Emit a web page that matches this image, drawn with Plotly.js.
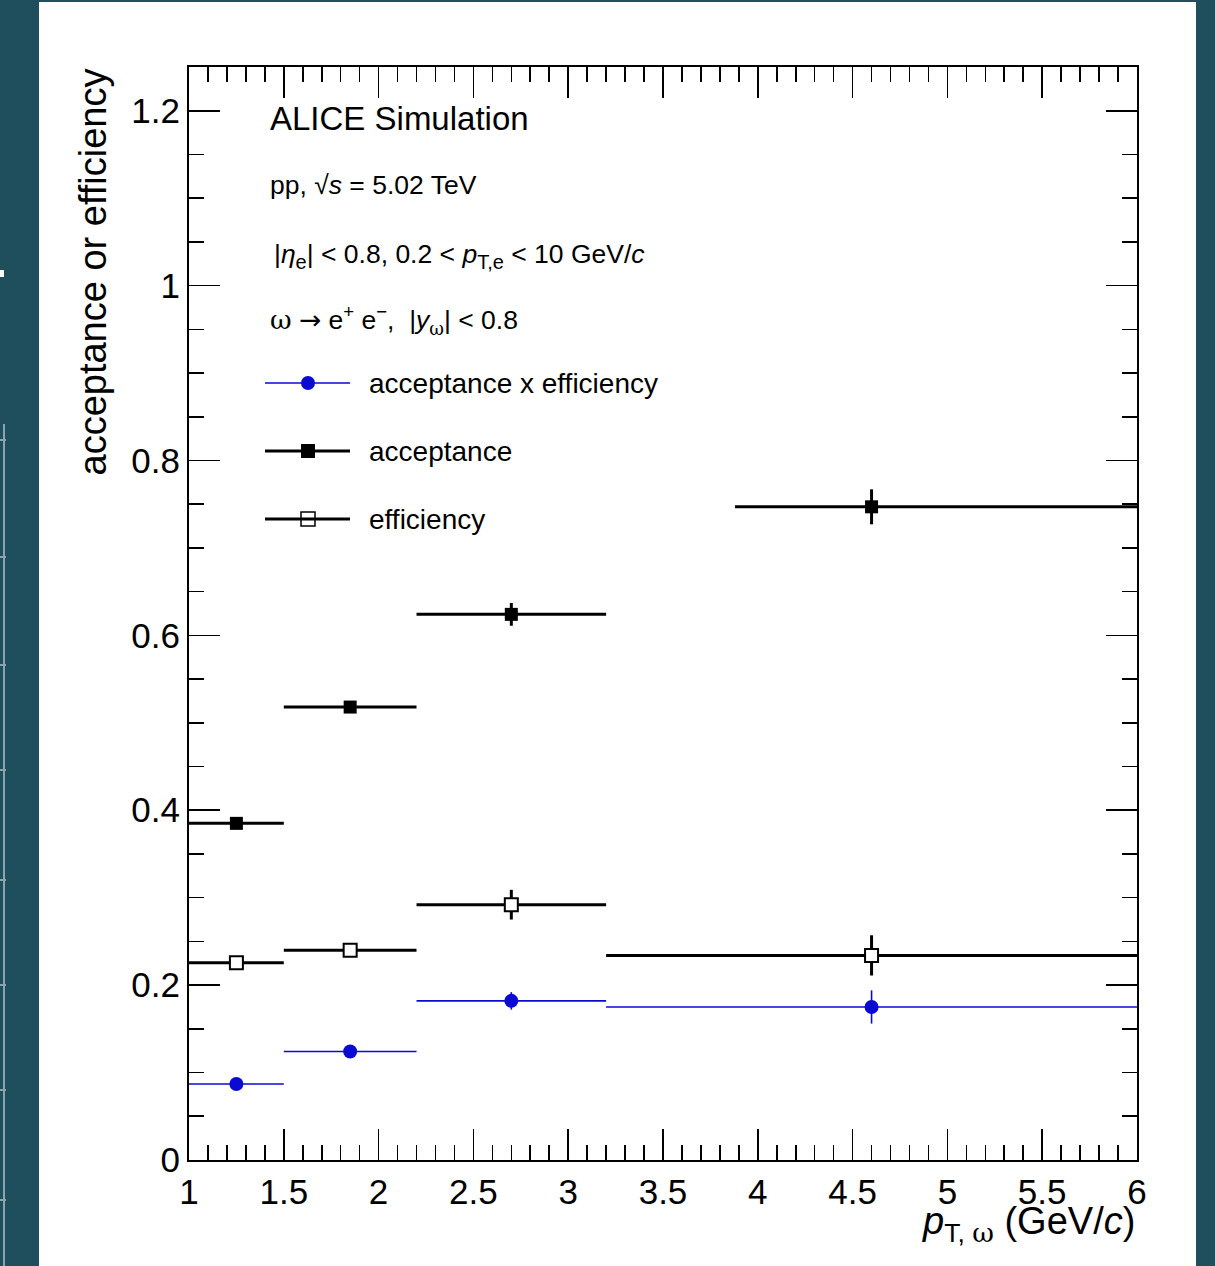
<!DOCTYPE html>
<html>
<head>
<meta charset="utf-8">
<script src="https://cdn.plot.ly/plotly-3.0.1.min.js"></script>
<style>html,body{margin:0;padding:0;background:#1f4f5d;}#chart{width:1215px;height:1266px;}</style>
</head>
<body>
<div id="chart"></div>
<script>
// pT bin centres (GeV/c)
const ptCenters = [1.25, 1.85, 2.7, 4.6];
// bin edges for each series
const accBinLow   = [1.0, 1.5, 2.2, 3.88];
const accBinHigh  = [1.5, 2.2, 3.2, 6.0];
const effBinLow   = [1.0, 1.5, 2.2, 3.2];
const effBinHigh  = [1.5, 2.2, 3.2, 6.0];
// values
const acceptance      = [0.385, 0.518, 0.624, 0.747];
const acceptanceErr   = [0.003, 0.005, 0.013, 0.020];
const efficiency      = [0.2255, 0.240, 0.292, 0.234];
const efficiencyErr   = [0.003, 0.004, 0.017, 0.023];
const accTimesEff     = [0.087, 0.124, 0.182, 0.175];
const accTimesEffErr  = [0.002, 0.003, 0.010, 0.019];
const xTickVals = [1, 1.5, 2, 2.5, 3, 3.5, 4, 4.5, 5, 5.5, 6];
const yTickVals = [0, 0.2, 0.4, 0.6, 0.8, 1, 1.2];

const plus = (lo, hi) => hi.map((h, i) => h - ptCenters[i]);
const minus = (lo, hi) => lo.map((l, i) => ptCenters[i] - l);

const BLUE = '#0a0ad2';
const FONT = 'Liberation Sans, Arial, Helvetica, sans-serif';
const OMEGA = '<span style="font-family:DejaVu Serif">ω</span>';

const traces = [
  {
    name: 'efficiency', type: 'scatter', mode: 'markers',
    x: ptCenters, y: efficiency,
    error_x: {type: 'data', symmetric: false, array: plus(effBinLow, effBinHigh), arrayminus: minus(effBinLow, effBinHigh), color: '#000', thickness: 3, width: 0},
    error_y: {type: 'data', array: efficiencyErr, color: '#000', thickness: 3, width: 0},
    marker: {symbol: 'square', size: 13, color: '#fff', line: {color: '#000', width: 2}},
    showlegend: false, cliponaxis: false
  },
  {
    name: 'acceptance', type: 'scatter', mode: 'markers',
    x: ptCenters, y: acceptance,
    error_x: {type: 'data', symmetric: false, array: plus(accBinLow, accBinHigh), arrayminus: minus(accBinLow, accBinHigh), color: '#000', thickness: 3, width: 0},
    error_y: {type: 'data', array: acceptanceErr, color: '#000', thickness: 3, width: 0},
    marker: {symbol: 'square', size: 13, color: '#000'},
    showlegend: false, cliponaxis: false
  },
  {
    name: 'acceptance x efficiency', type: 'scatter', mode: 'markers',
    x: ptCenters, y: accTimesEff,
    error_x: {type: 'data', symmetric: false, array: plus(effBinLow, effBinHigh), arrayminus: minus(effBinLow, effBinHigh), color: BLUE, thickness: 1.6, width: 0},
    error_y: {type: 'data', array: accTimesEffErr, color: BLUE, thickness: 1.6, width: 0},
    marker: {symbol: 'circle', size: 14, color: BLUE},
    showlegend: false, cliponaxis: false
  }
];

// pixel -> paper helpers for layout decorations
const L = 189, R = 1137, T = 67, B = 1160;
const px = v => (v - L) / (R - L);
const py = v => (B - v) / (B - T);

const shapes = [
  // white panel on the teal page
  {type: 'rect', xref: 'paper', yref: 'paper', x0: px(39), x1: px(1196), y0: py(1270), y1: py(2), fillcolor: '#ffffff', line: {width: 0}, layer: 'below'},
  // faint screen artefacts on the left edge
  {type: 'line', xref: 'paper', yref: 'paper', x0: px(4), x1: px(4), y0: py(1266), y1: py(424), line: {color: '#8aa3ad', width: 2}, layer: 'below'},
  {type: 'rect', xref: 'paper', yref: 'paper', x0: px(0), x1: px(4), y0: py(277), y1: py(270), fillcolor: '#ffffff', line: {width: 0}, layer: 'below'}
];
[440, 557, 665, 770, 880, 985, 1090, 1200].forEach(y => {
  shapes.push({type: 'line', xref: 'paper', yref: 'paper', x0: px(0), x1: px(6), y0: py(y), y1: py(y), line: {color: '#8aa3ad', width: 2}, layer: 'below'});
});

// hand-drawn legend (ROOT style)
const legRows = [
  {y: 383, label: 'acceptance x efficiency', color: BLUE, lw: 1.6, mark: 'circle'},
  {y: 451, label: 'acceptance', color: '#000', lw: 3, mark: 'fsquare'},
  {y: 519, label: 'efficiency', color: '#000', lw: 3, mark: 'osquare'}
];
const annotations = [];
legRows.forEach(r => {
  shapes.push({type: 'line', xref: 'paper', yref: 'paper', x0: px(265), x1: px(350), y0: py(r.y), y1: py(r.y), line: {color: r.color, width: r.lw}});
  if (r.mark === 'circle') {
    shapes.push({type: 'circle', xref: 'paper', yref: 'paper', x0: px(301), x1: px(315), y0: py(r.y + 7), y1: py(r.y - 7), fillcolor: r.color, line: {color: r.color, width: 0}});
  } else if (r.mark === 'fsquare') {
    shapes.push({type: 'rect', xref: 'paper', yref: 'paper', x0: px(301), x1: px(315), y0: py(r.y + 7), y1: py(r.y - 7), fillcolor: '#000', line: {color: '#000', width: 0}});
  } else {
    shapes.push({type: 'rect', xref: 'paper', yref: 'paper', x0: px(301), x1: px(315), y0: py(r.y + 7), y1: py(r.y - 7), fillcolor: 'rgba(0,0,0,0)', line: {color: '#000', width: 1.5}});
  }
  annotations.push({xref: 'paper', yref: 'paper', x: px(367), y: py(r.y), xanchor: 'left', yanchor: 'middle', showarrow: false, text: r.label, font: {family: FONT, size: 28, color: '#000'}});
});

annotations.push(
  {xref: 'paper', yref: 'paper', x: px(268), y: py(118), xanchor: 'left', yanchor: 'middle', showarrow: false, text: 'ALICE Simulation', font: {family: FONT, size: 33, color: '#000'}},
  {xref: 'paper', yref: 'paper', x: px(268), y: py(185), xanchor: 'left', yanchor: 'middle', showarrow: false, text: 'pp, √<i>s</i> = 5.02 TeV', font: {family: FONT, size: 26.5, color: '#000'}},
  {xref: 'paper', yref: 'paper', x: px(272), y: py(256), xanchor: 'left', yanchor: 'middle', showarrow: false, text: '|<i>η</i><sub><span style="font-size:20px">e</span></sub>| &lt; 0.8, 0.2 &lt; <i>p</i><sub><span style="font-size:20px">T,e</span></sub> &lt; 10 GeV/<i>c</i>', font: {family: FONT, size: 26.5, color: '#000'}},
  {xref: 'paper', yref: 'paper', x: px(268), y: py(320), xanchor: 'left', yanchor: 'middle', showarrow: false, text: OMEGA + ' <span style="font-family:DejaVu Sans">→</span> e<sup>+</sup> e<sup>−</sup>,  |<i>y</i><sub><span style="font-family:DejaVu Serif;font-size:18px">ω</span></sub>| &lt; 0.8', font: {family: FONT, size: 26.5, color: '#000'}},
  // axis titles
  {xref: 'paper', yref: 'paper', x: 1, y: py(1224), xanchor: 'right', yanchor: 'middle', showarrow: false, text: '<i>p</i><sub>T, <span style="font-family:DejaVu Serif">ω</span></sub> (GeV/<i>c</i>)', font: {family: FONT, size: 38, color: '#000'}},
  {xref: 'paper', yref: 'paper', x: px(92), y: 1, xanchor: 'center', yanchor: 'top', textangle: -90, showarrow: false, text: 'acceptance or efficiency', font: {family: FONT, size: 38, color: '#000'}}
);

const axisCommon = {
  showgrid: false, zeroline: false, showline: true, linecolor: '#000', linewidth: 2,
  mirror: 'allticks', ticks: 'inside', tickcolor: '#000', tickwidth: 1.6, ticklen: 31,
  tickfont: {family: FONT, size: 35, color: '#000'}, tickmode: 'array'
};

const layout = {
  width: 1215, height: 1266,
  margin: {l: L, r: 1215 - R, t: T, b: 1266 - B},
  paper_bgcolor: '#1f4f5d', plot_bgcolor: 'rgba(0,0,0,0)',
  showlegend: false,
  xaxis: Object.assign({}, axisCommon, {range: [1, 6], tickvals: xTickVals, ticktext: xTickVals.map(String),
    minor: {dtick: 0.1, tick0: 1, ticks: 'inside', ticklen: 15, tickwidth: 1.6, tickcolor: '#000', showgrid: false}}),
  yaxis: Object.assign({}, axisCommon, {range: [0, 1.25], tickvals: yTickVals, ticktext: yTickVals.map(String),
    minor: {dtick: 0.05, tick0: 0, ticks: 'inside', ticklen: 15, tickwidth: 1.6, tickcolor: '#000', showgrid: false}}),
  shapes: shapes,
  annotations: annotations
};

Plotly.newPlot('chart', traces, layout, {displayModeBar: false, staticPlot: true});
</script>
</body>
</html>
